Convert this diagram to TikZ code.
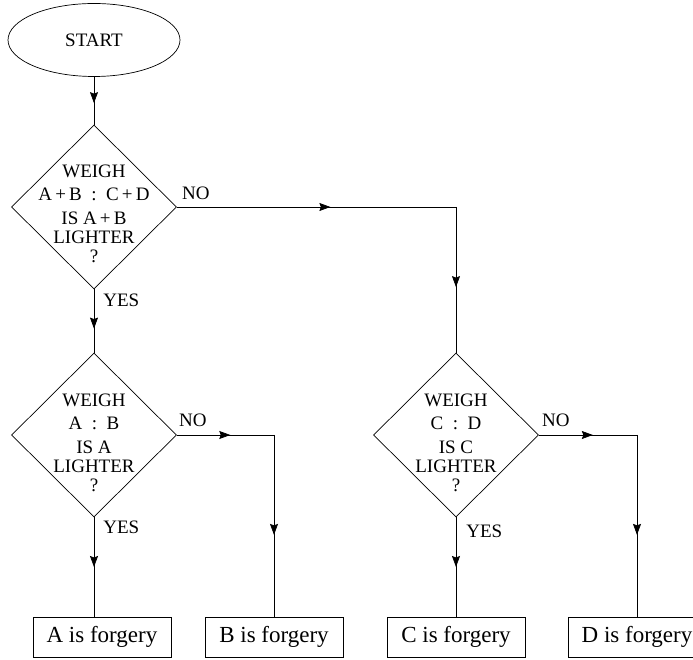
\documentclass[tikz,border=0pt]{standalone}
\usepackage{fontspec}
\setmainfont{Liberation Serif}
\usetikzlibrary{arrows.meta,shapes.geometric,decorations.markings,positioning}

\begin{document}
\begin{tikzpicture}[x=1pt,y=1pt,line width=0.7pt,mid arrow/.style={postaction={decorate},decoration={markings,mark=at position #1 with {\arrow{Stealth[length=11pt,width=8pt,inset=1.5pt]}}}},mid arrow/.default=0.55,start node/.style={ellipse,draw,minimum width=172pt,minimum height=73pt,inner sep=0pt,font=\fontsize{19}{19}\selectfont},test node/.style={diamond,draw,minimum width=165pt,minimum height=164pt,inner sep=0pt},test text/.style={align=center,inner sep=0pt,font=\fontsize{19}{19}\selectfont},result node/.style={rectangle,draw,minimum width=138pt,minimum height=40pt,inner sep=0pt,font=\fontsize{23}{23}\selectfont},answer/.style={anchor=base west,inner sep=0pt,font=\fontsize{19}{19}\selectfont}]
            \clip (0,0) rectangle (693,659);

            \node[start node] (start) at (94,619) {START};
            \node[test node] (w1) at (94,452) {};
            \node[test node] (w2) at (94,224) {};
            \node[test node] (w3) at (456,224) {};
            \node[test text] (w1text) at ([yshift=-7pt]w1) {WEIGH\\[4pt]A\,+\,B\ \ :\ \ C\,+\,D\\[5pt]IS A\,+\,B\\LIGHTER\\?};
            \node[test text] (w2text) at ([yshift=-8pt]w2) {WEIGH\\[4pt]A\ \ :\ \ B\\[5pt]IS A\\LIGHTER\\?};
            \node[test text] (w3text) at ([yshift=-8pt]w3) {WEIGH\\[4pt]C\ \ :\ \ D\\[5pt]IS C\\LIGHTER\\?};

            \node[result node] (a) at (102,22) {A is forgery};
            \node[result node] (b) at (274,22) {B is forgery};
            \node[result node] (c) at (456,22) {C is forgery};
            \node[result node] (d) at (637,22) {D is forgery};

            % corners of the NO branches
            \coordinate (c1) at (w3 |- w1);
            \coordinate (c2) at (b |- w2);
            \coordinate (c3) at (d |- w3);
            \coordinate (ya) at (w2 |- a.north);

            \node[answer] (no1) at ([xshift=5pt,yshift=7pt]w1.east) {NO};
            \node[answer] (no2) at ([xshift=2pt,yshift=8pt]w2.east) {NO};
            \node[answer] (no3) at ([xshift=3pt,yshift=8pt]w3.east) {NO};
            \node[answer] (yes1) at ([xshift=9pt,yshift=-17pt]w1.south) {YES};
            \node[answer] (yes2) at ([xshift=9pt,yshift=-16pt]w2.south) {YES};
            \node[answer] (yes3) at ([xshift=10pt,yshift=-20pt]w3.south) {YES};

            \draw[mid arrow] (start) -- (w1);
            \draw[mid arrow] (w1.east) -- (c1);
            \draw[mid arrow] (c1) -- (w3.north);
            \draw[mid arrow=0.62] (w1.south) -- (w2.north);
            \draw[mid arrow] (w2.east) -- (c2);
            \draw[mid arrow] (c2) -- (b.north);
            \draw[mid arrow=0.5] (w2.south) -- (ya);
            \draw[mid arrow] (w3.east) -- (c3);
            \draw[mid arrow] (c3) -- (d.north);
            \draw[mid arrow=0.5] (w3.south) -- (c.north);
        \end{tikzpicture}
\end{document}
